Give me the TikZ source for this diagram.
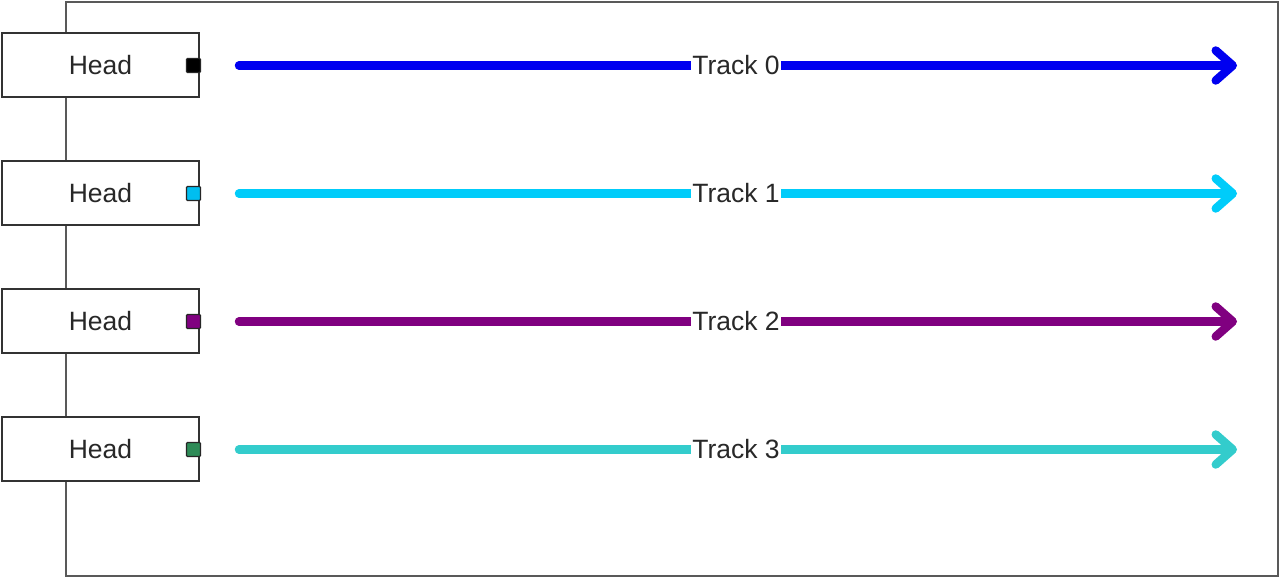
\documentclass[tikz,border=0pt]{standalone}
\usepackage{fontspec}
\setmainfont{Liberation Sans}
\usetikzlibrary{arrows.meta}
\definecolor{trackA}{RGB}{0,0,240}
\definecolor{trackB}{RGB}{0,204,250}
\definecolor{trackC}{RGB}{128,0,128}
\definecolor{trackD}{RGB}{51,204,204}
\definecolor{portB}{RGB}{0,190,240}
\definecolor{portD}{RGB}{46,139,87}
\definecolor{textgray}{RGB}{40,40,40}
\tikzset{
  headbox/.style={draw=black!80, line width=1.2pt, fill=white, minimum width=197pt,
    minimum height=64pt, inner sep=0pt, text=textgray},
  portbox/.style={draw=black!85, line width=1.2pt, minimum size=14pt, inner sep=0pt,
    rounded corners=1pt},
  trackline/.style={line width=8.5pt, line cap=round,
    -{Straight Barb[length=17pt, width=30pt, round]}},
  tracklabel/.style={fill=white, inner sep=1pt, text=textgray}
}
\begin{document}
\begin{tikzpicture}[x=1pt, y=-1pt, font=\fontsize{26.5}{30}\selectfont]
    \useasboundingbox (0,0) rectangle (1280,578);

    % Frame
    \draw[black!65, line width=2pt] (66,2) rectangle (1278,576);

    % Heads
    \node[headbox] (head0) at (100.5,65) {Head};
    \node[headbox] (head1) at (100.5,193) {Head};
    \node[headbox] (head2) at (100.5,321) {Head};
    \node[headbox] (head3) at (100.5,449) {Head};

    % Ports on the heads
    \node[portbox, fill=black] (port0) at (193.5,65.5) {};
    \node[portbox, fill=portB] (port1) at (193.5,193.5) {};
    \node[portbox, fill=trackC] (port2) at (193.5,321.5) {};
    \node[portbox, fill=portD] (port3) at (193.5,449.5) {};

    % Track ends
    \coordinate (start0) at (239,65.5);  \coordinate (end0) at (1237,65.5);
    \coordinate (start1) at (239,193.5); \coordinate (end1) at (1237,193.5);
    \coordinate (start2) at (239,321.5); \coordinate (end2) at (1237,321.5);
    \coordinate (start3) at (239,449.5); \coordinate (end3) at (1237,449.5);

    % Tracks
    \draw[trackline, trackA] (start0) -- (end0) node[pos=0.498, tracklabel] (track0) {Track 0};
    \draw[trackline, trackB] (start1) -- (end1) node[pos=0.498, tracklabel] (track1) {Track 1};
    \draw[trackline, trackC] (start2) -- (end2) node[pos=0.498, tracklabel] (track2) {Track 2};
    \draw[trackline, trackD] (start3) -- (end3) node[pos=0.498, tracklabel] (track3) {Track 3};
\end{tikzpicture}
\end{document}
